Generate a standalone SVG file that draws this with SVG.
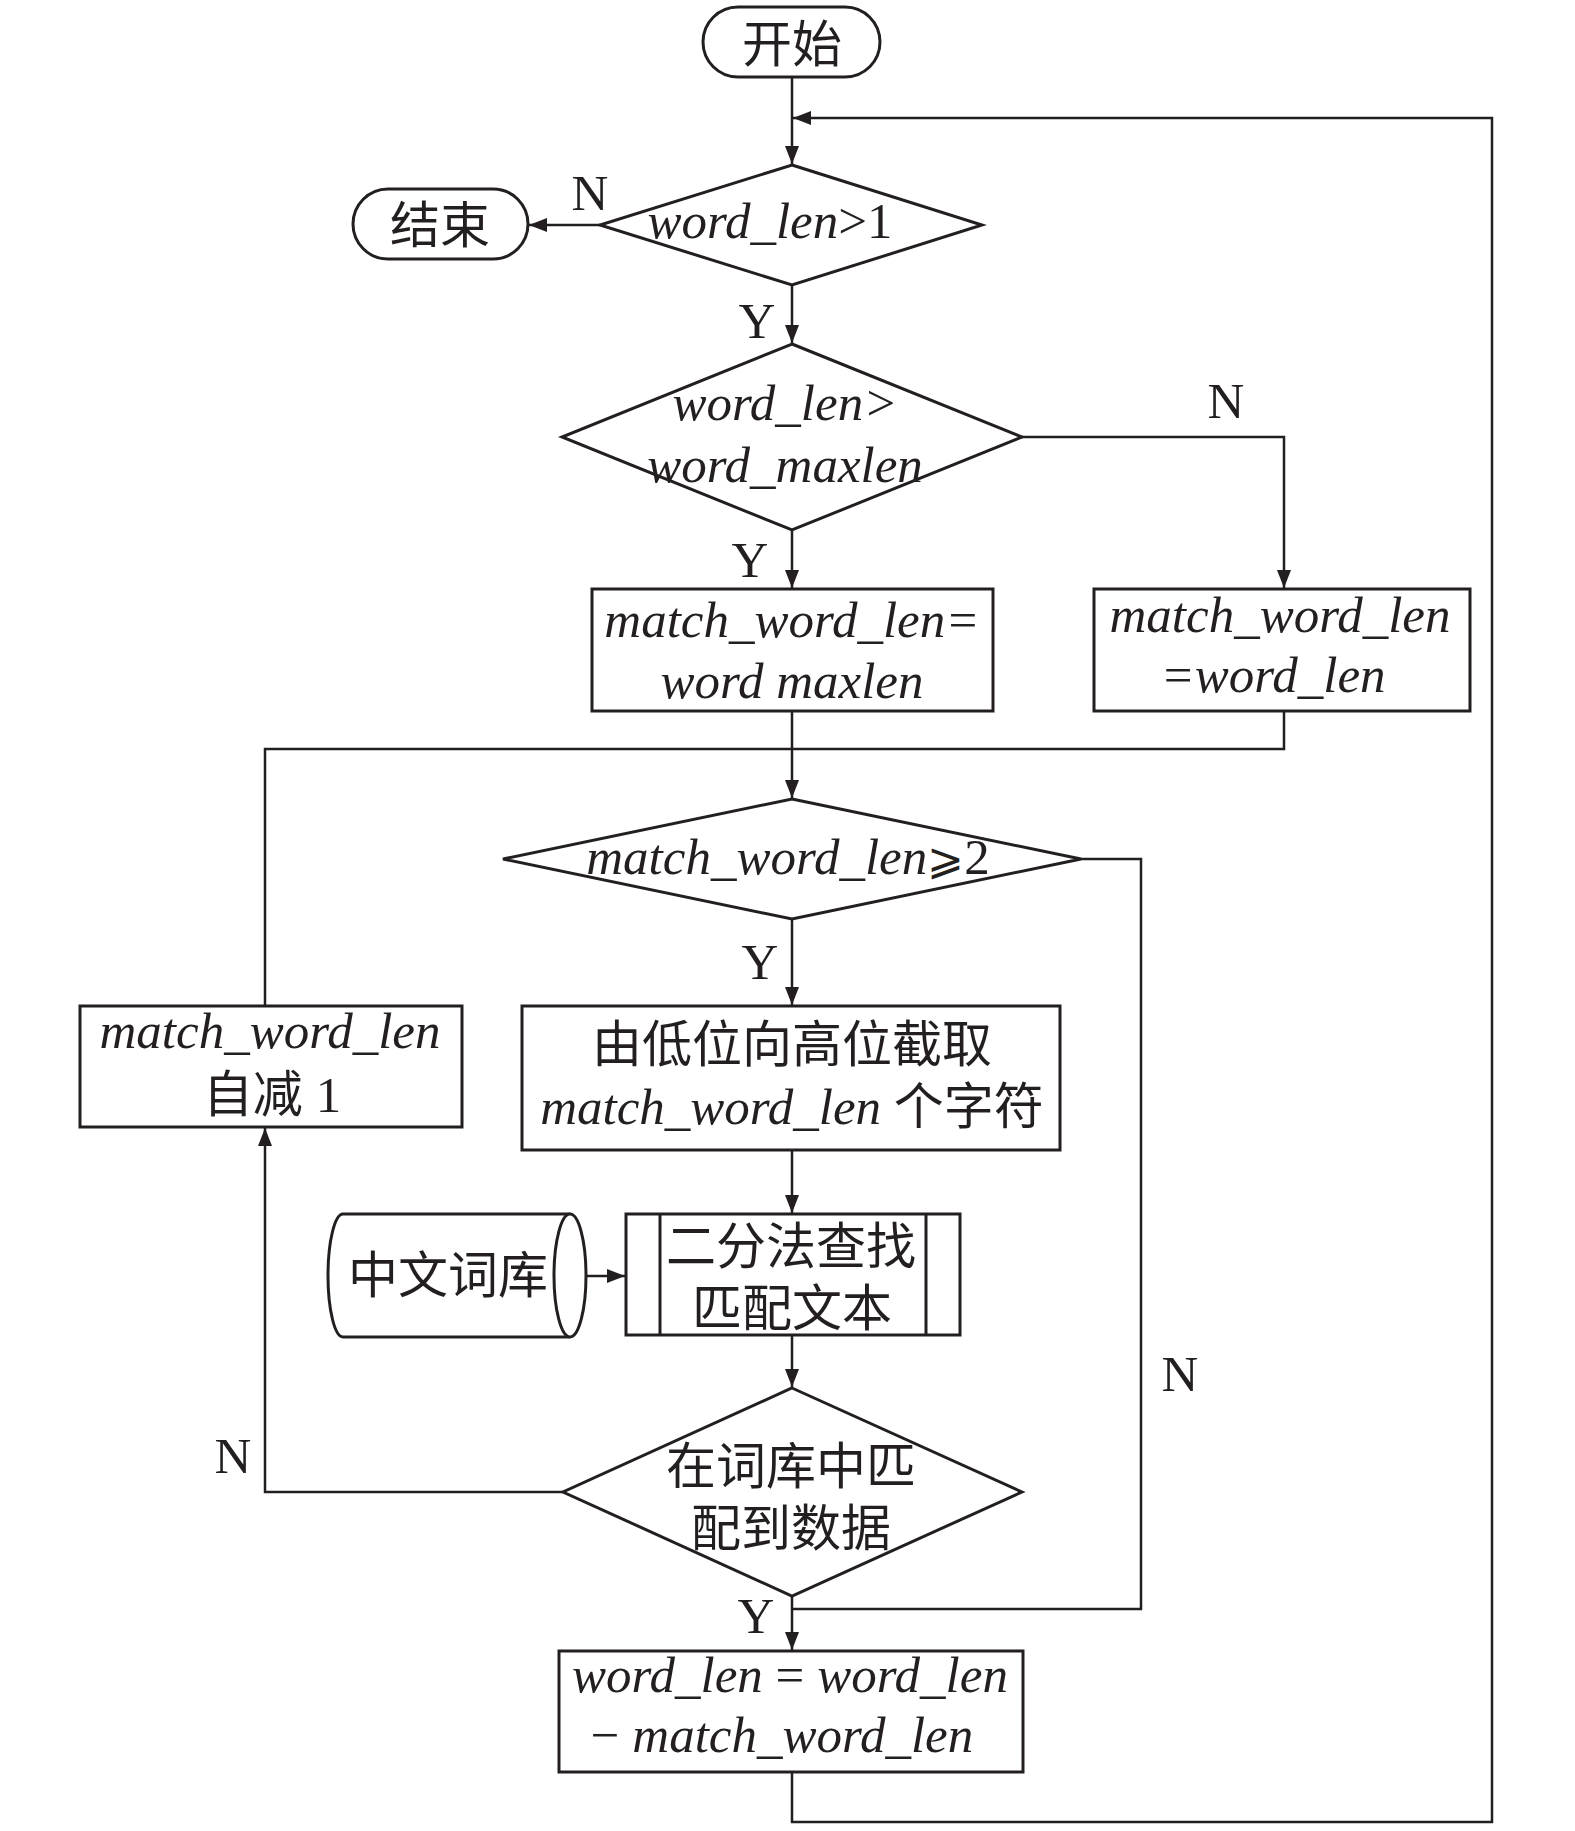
<svg xmlns="http://www.w3.org/2000/svg" width="1575" height="1831" viewBox="0 0 1575 1831">
<style>
.shape{fill:#fff;stroke:#231f20;stroke-width:3}
.conn{fill:none;stroke:#231f20;stroke-width:2.5}
.lat{font-family:"Liberation Serif","Noto Sans CJK SC",serif;font-style:italic;font-size:51px;fill:#231f20;text-anchor:middle}
.cjk{font-family:"Noto Sans CJK SC","Liberation Serif",sans-serif;font-size:50px;fill:#231f20;text-anchor:middle}
.lab{font-family:"Liberation Serif",serif;font-size:51px;fill:#231f20;text-anchor:middle}
.up{font-style:normal;font-family:"Liberation Serif","DejaVu Serif",serif}
.c{font-style:normal;font-family:"Noto Sans CJK SC",sans-serif;font-size:50px}
</style>
<defs>
<marker id="ah" markerUnits="userSpaceOnUse" markerWidth="18" markerHeight="14" refX="18" refY="7" orient="auto">
<path d="M0,0 L18,7 L0,14 z" fill="#231f20"/>
</marker>
</defs>
<rect width="1575" height="1831" fill="#fff"/>
<g id="connectors">
<path class="conn" d="M792,77 V164" marker-end="url(#ah)"/>
<path class="conn" d="M792,1772 V1822 H1492 V118 H793" marker-end="url(#ah)"/>
<path class="conn" d="M600,225 H529" marker-end="url(#ah)"/>
<path class="conn" d="M792,285 V343" marker-end="url(#ah)"/>
<path class="conn" d="M1022,437 H1284 V588" marker-end="url(#ah)"/>
<path class="conn" d="M792,530 V588" marker-end="url(#ah)"/>
<path class="conn" d="M792,711 V798" marker-end="url(#ah)"/>
<path class="conn" d="M1284,711 V749 H265 V1006"/>
<path class="conn" d="M792,919 V1005" marker-end="url(#ah)"/>
<path class="conn" d="M1081,859 H1141 V1609 H792"/>
<path class="conn" d="M792,1150 V1213" marker-end="url(#ah)"/>
<path class="conn" d="M586,1276 H625" marker-end="url(#ah)"/>
<path class="conn" d="M792,1335 V1387" marker-end="url(#ah)"/>
<path class="conn" d="M563,1492 H265 V1128" marker-end="url(#ah)"/>
<path class="conn" d="M792,1596 V1650" marker-end="url(#ah)"/>
</g>
<g id="start">
<rect class="shape" x="703" y="7" width="177" height="70" rx="35"/>
<text class="cjk" x="792" y="62">开始</text>
</g>
<g id="end">
<rect class="shape" x="353" y="189" width="175" height="70" rx="35"/>
<text class="cjk" x="440" y="243">结束</text>
</g>
<g id="dec1">
<polygon class="shape" points="792,165 982,225 792,285 600,225"/>
<text class="lat" x="770" y="238">word_len<tspan class="up">&gt;1</tspan></text>
</g>
<g id="dec2">
<polygon class="shape" points="792,344 1022,437 792,530 562,437"/>
<text class="lat" x="785" y="420">word_len&gt;</text>
<text class="lat" x="785" y="482">word_maxlen</text>
</g>
<g id="boxA">
<rect class="shape" x="592" y="589" width="401" height="122"/>
<text class="lat" x="792" y="637">match_word_len=</text>
<text class="lat" x="792" y="698">word maxlen</text>
</g>
<g id="boxB">
<rect class="shape" x="1094" y="589" width="376" height="122"/>
<text class="lat" x="1280" y="632">match_word_len</text>
<text class="lat" x="1273" y="692">=word_len</text>
</g>
<g id="dec3">
<polygon class="shape" points="792,799 1081,859 792,919 503,859"/>
<text class="lat" x="788" y="874">match_word_len<tspan class="up" font-family="DejaVu Serif,DejaVu Sans" font-size="44">⩾</tspan><tspan class="up">2</tspan></text>
</g>
<g id="boxC">
<rect class="shape" x="80" y="1006" width="382" height="121"/>
<text class="lat" x="270" y="1048">match_word_len</text>
<text class="cjk" x="272" y="1112">自减<tspan font-family="Liberation Serif,serif" font-size="51"> 1</tspan></text>
</g>
<g id="boxD">
<rect class="shape" x="522" y="1006" width="538" height="144"/>
<text class="cjk" x="792" y="1062">由低位向高位截取</text>
<text class="lat" x="792" y="1124">match_word_len <tspan class="c">个字符</tspan></text>
</g>
<g id="db">
<path class="shape" d="M343,1214 H570 A16,61.5 0 0 1 570,1337 H343 A15,61.5 0 0 1 343,1214 Z"/>
<path class="shape" d="M570,1214 A16,61.5 0 0 0 570,1337"/>
<text class="cjk" x="448" y="1293">中文词库</text>
</g>
<g id="boxE">
<rect class="shape" x="626" y="1214" width="334" height="121"/>
<line class="shape" x1="660" y1="1214" x2="660" y2="1335"/>
<line class="shape" x1="926" y1="1214" x2="926" y2="1335"/>
<text class="cjk" x="791" y="1264">二分法查找</text>
<text class="cjk" x="792" y="1326">匹配文本</text>
</g>
<g id="dec4">
<polygon class="shape" points="792,1388 1022,1492 792,1596 563,1492"/>
<text class="cjk" x="791" y="1484">在词库中匹</text>
<text class="cjk" x="791" y="1546">配到数据</text>
</g>
<g id="boxF">
<rect class="shape" x="559" y="1651" width="464" height="121"/>
<text class="lat" x="790" y="1692">word_len<tspan class="up"> = </tspan>word_len</text>
<text class="lat" x="782" y="1752"><tspan class="up">− </tspan>match_word_len</text>
</g>
<g id="labels">
<text class="lab" x="590" y="210">N</text>
<text class="lab" x="757" y="338">Y</text>
<text class="lab" x="1226" y="418">N</text>
<text class="lab" x="750" y="577">Y</text>
<text class="lab" x="760" y="979">Y</text>
<text class="lab" x="233" y="1473">N</text>
<text class="lab" x="1180" y="1391">N</text>
<text class="lab" x="756" y="1633">Y</text>
</g>
</svg>
